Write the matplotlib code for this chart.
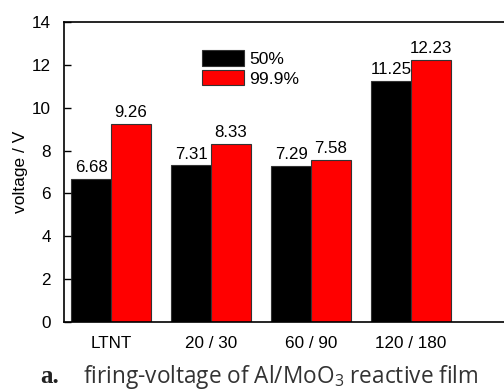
import numpy as np
import matplotlib.pyplot as plt

categories = ['LTNT', '20 / 30', '60 / 90', '120 / 180']
purity_50 = [6.68, 7.31, 7.29, 11.25]
purity_999 = [9.26, 8.33, 7.58, 12.23]
series_labels = ['50%', '99.9%']
y_ticks = [0, 2, 4, 6, 8, 10, 12, 14]

plt.rcParams['font.family'] = ['Liberation Sans', 'DejaVu Sans']

fig = plt.figure(figsize=(5.04, 3.91), dpi=100)
ax = fig.add_axes([64 / 504, (391 - 322) / 391, 1 - 64 / 504, 300 / 391])

x = np.arange(len(categories))
w = 0.4
b1 = ax.bar(x - w / 2, purity_50, w, color='black', edgecolor='#333333', linewidth=0.8, label=series_labels[0])
b2 = ax.bar(x + w / 2, purity_999, w, color='#ff0000', edgecolor='#333333', linewidth=0.8, label=series_labels[1])

# value labels on top of each bar
for bars, vals in [(b1, purity_50), (b2, purity_999)]:
    for rect, v in zip(bars, vals):
        ax.text(rect.get_x() + rect.get_width() / 2, v + 0.18, f'{v:.2f}',
                ha='center', va='bottom', fontsize=12.2)

ax.set_xlim(-0.47, 3.93)
ax.set_ylim(0, 14)
ax.set_yticks(y_ticks)
ax.set_xticks(x)
ax.set_xticklabels(categories)
ax.tick_params(axis='y', direction='in', length=5, width=1, labelsize=12.3, pad=9.5)
ax.tick_params(axis='x', length=0, labelsize=12.3, pad=10)
ax.spines['right'].set_visible(False)
for s in ['left', 'top', 'bottom']:
    ax.spines[s].set_linewidth(1.2)
ax.set_ylabel('voltage / V', fontsize=12.5, labelpad=3)

ax.legend(loc='upper left', bbox_to_anchor=(0.293, 0.935), frameon=False, fontsize=12.6,
          handlelength=2.4, handleheight=1.0, handletextpad=0.3, labelspacing=0.15,
          borderpad=0)

fig.text(40 / 504, 1 - 383 / 391, 'a.', fontsize=18, fontweight='bold',
         family=['Liberation Serif'], color='#222222', va='baseline')
fig.text(83 / 504, 1 - 383 / 391, r'firing-voltage of Al/MoO$_\mathregular{3}$ reactive film',
         fontsize=16.3, family=['Open Sans'], color='#333333', va='baseline')

fig.savefig('out.png', dpi=100)
